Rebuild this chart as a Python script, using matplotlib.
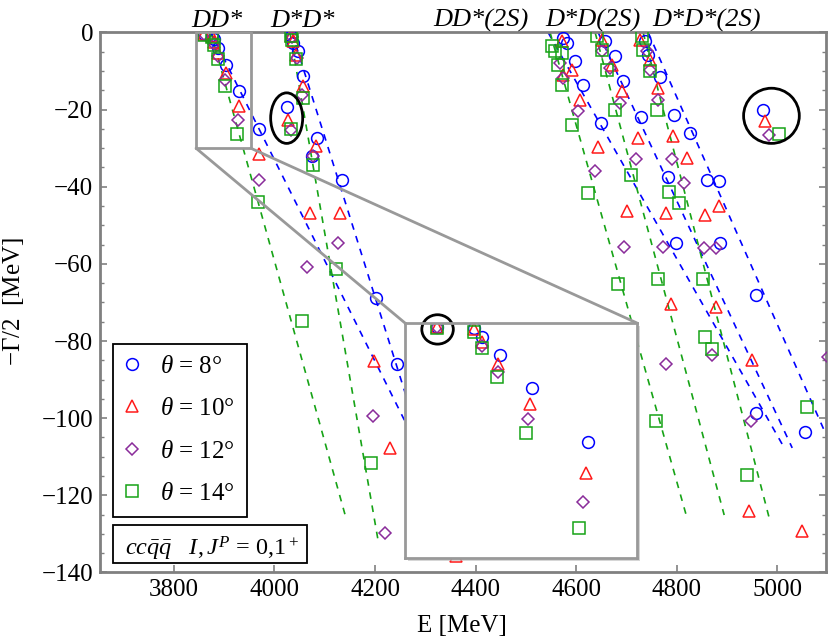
import matplotlib
matplotlib.use('Agg')
import matplotlib.pyplot as plt
import numpy as np
from matplotlib.patches import Ellipse, Rectangle, ConnectionPatch
from matplotlib.ticker import MultipleLocator

plt.rcParams['font.family'] = 'Liberation Serif'
plt.rcParams['mathtext.fontset'] = 'custom'
plt.rcParams['mathtext.rm'] = 'Liberation Serif'
plt.rcParams['mathtext.it'] = 'Liberation Serif:italic'
plt.rcParams['mathtext.bf'] = 'Liberation Serif:bold'

# complex-scaling eigenvalues, E [MeV] and -Gamma/2 [MeV]
e08 = [3859.2, 3876.2, 3880.3, 3888.6, 3903.5, 3930.1, 3969.7,
       4033.8, 4037.0, 4047.4, 4057.3, 4085.6, 4075.6, 4133.7, 4202.0, 4243.0, 4024.3,
       4574.7, 4581.5, 4598.0, 4614.5, 4649.1,
       4657.7, 4677.6, 4694.1, 4728.7, 4783.7,
       4737.3, 4743.9, 4767.1, 4795.0, 4826.8, 4860.0, 4885.0, 4799.0, 4886.1,
       4957.4, 4957.4, 5055.0, 4971.5]
g08 = [-0.5, -0.6, -1.8, -4.1, -8.3, -15.2, -25.1,
       -1.0, -2.7, -4.9, -11.4, -27.4, -32.1, -38.2, -68.8, -86.0, -19.2,
       -1.4, -2.7, -7.5, -13.5, -23.5,
       -2.3, -6.2, -12.7, -22.0, -37.4,
       -2.3, -5.8, -11.6, -21.4, -26.1, -38.2, -38.4, -54.7, -54.5,
       -68.1, -98.7, -103.7, -20.1]

e10 = [3859.2, 3876.2, 3880.0, 3887.8, 3902.7, 3928.9, 3969.8,
       4033.8, 4036.0, 4042.8, 4056.1, 4083.6, 4027.5, 4070.6, 4130.0, 4198.6, 4229.9, 4361.0,
       4571.5, 4591.4, 4574.7, 4607.9, 4644.4, 4701.0,
       4651.1, 4671.0, 4690.9, 4724.0, 4779.7, 4789.6,
       4727.3, 4747.2, 4763.8, 4792.4, 4820.3, 4856.1, 4884.2, 4877.6, 4950.6,
       4944.0, 5048.5, 4974.8]
g10 = [-0.5, -0.8, -2.4, -5.2, -10.4, -19.1, -31.5,
       -0.8, -2.2, -5.75, -13.9, -29.5, -22.6, -46.9, -46.7, -85.1, -107.8, -135.6,
       -2.3, -9.6, -10.9, -17.4, -29.6, -46.3,
       -1.9, -8.3, -15.2, -27.4, -46.7, -70.5,
       -1.9, -7.1, -14.4, -26.8, -32.6, -47.2, -45.0, -71.2, -84.9,
       -124.1, -129.3, -22.9]

e12 = [3859.2, 3880.0, 3887.8, 3901.9, 3927.5, 3969.8, 4064.0, 4127.0, 4196.6, 4220.0,
       4034.0, 4044.2, 4054.1, 4076.8, 4032.2,
       4568.1, 4574.7, 4604.6, 4637.8, 4694.5, 4779.7,
       4651.1, 4667.6, 4687.5, 4718.8, 4772.9, 4869.4,
       4740.7, 4747.2, 4763.8, 4790.4, 4814.9, 4854.1, 4877.6, 4947.5, 5100.5, 4982.7]
g12 = [-0.5, -2.9, -6.2, -12.3, -22.8, -38.2, -60.7, -54.7, -99.4, -129.8,
       -1.2, -6.6, -16.1, -32.1, -25.2,
       -7.9, -11.8, -20.4, -35.8, -55.6, -85.9,
       -4.9, -9.2, -18.3, -32.9, -55.6, -83.5,
       -4.9, -9.6, -17.4, -32.8, -39.1, -56.0, -56.0, -100.7, -84.2, -26.6]

e14 = [3859.2, 3876.4, 3880.0, 3887.4, 3900.8, 3925.7, 3967.8, 4055.3, 4121.8, 4191.8,
       4033.8, 4035.0, 4042.8, 4056.1, 4076.8, 4032.2,
       4551.6, 4558.2, 4571.5, 4564.8, 4571.5, 4591.4, 4624.5, 4682.6, 4759.8,
       4641.2, 4651.1, 4661.1, 4677.6, 4708.8, 4763.0, 4855.5,
       4730.7, 4733.9, 4747.2, 4760.5, 4785.6, 4805.0, 4852.7, 4870.6, 4940.6,
       5059.3, 5002.6]
g14 = [-0.6, -1.1, -3.2, -6.9, -14.0, -26.2, -43.9, -74.7, -61.4, -111.5,
       -1.0, -2.0, -6.8, -17.0, -34.3, -24.9,
       -3.6, -4.9, -5.3, -8.3, -13.5, -24.0, -41.5, -65.1, -100.8,
       -1.0, -4.5, -9.6, -20.0, -36.9, -63.8, -79.0,
       -1.0, -4.5, -10.1, -20.0, -41.3, -44.1, -63.8, -82.0, -114.7,
       -97.2, -26.3]

# rotated continuum lines (E0, G0, E1, G1)
blue_lines = [(3873.6, 0.0, 4309.4, -113.8),
              (4034.8, 0.0, 4289.5, -105.7),
              (4544.3, 0.0, 5011.9, -107.2),
              (4643.8, 0.0, 5029.8, -107.7),
              (4743.3, 0.0, 5128.2, -113.4)]
green_lines = [(3873.6, 0.0, 4142.3, -125.9),
               (4030.8, 0.0, 4206.0, -131.6),
               (4548.2, 0.0, 4818.9, -125.1),
               (4637.8, 0.0, 4894.5, -125.1),
               (4733.3, 0.0, 4984.1, -125.9)]

thresholds = ['DD*', 'D*D*', 'DD*(2S)', 'D*D(2S)', 'D*D*(2S)']
threshold_x = [3885, 4055, 4411, 4633, 4860]

series = [(e08, g08, 'o', '#0000ff', r'$\theta$ = 8°'),
          (e10, g10, '^', '#ff1a1a', r'$\theta$ = 10°'),
          (e12, g12, 'D', '#8a2c9a', r'$\theta$ = 12°'),
          (e14, g14, 's', '#16a316', r'$\theta$ = 14°')]
msize = {'o': 8.5, '^': 8.5, 'D': 6.5, 's': 8.0}

spine_gray = '#808080'

fig = plt.figure(figsize=(8.3, 6.37), dpi=100)
ax = fig.add_axes([0.12048, 0.10126, 0.87470, 0.84772])

for x0, y0, x1, y1 in blue_lines:
    ax.plot([x0, x1], [y0, y1], ls=(0, (4, 4)), color='#0000ff', lw=1.2, zorder=2)
for x0, y0, x1, y1 in green_lines:
    ax.plot([x0, x1], [y0, y1], ls=(0, (4, 4)), color='#16a316', lw=1.2, zorder=2)

handles = []
for ex, gy, mk, col, lab in series:
    h, = ax.plot(ex, gy, ls='none', marker=mk, ms=msize[mk], mfc='none', mec=col,
                 mew=1.1, label=lab, zorder=3)
    handles.append(h)

ax.add_patch(Ellipse((4024.3, -22.2), 63.7, 13.1, fill=False, ec='black', lw=2, zorder=4))
ax.add_patch(Ellipse((4988.5, -21.6), 110.8, 14.3, fill=False, ec='black', lw=2, zorder=4))

# zoom box and connectors
box_x = (3844, 3953)
box_y = (-30, 0)
ax.add_patch(Rectangle((box_x[0], box_y[0]), box_x[1] - box_x[0], box_y[1] - box_y[0],
                       fill=False, ec='#999999', lw=2, zorder=5))

ax.set_xlim(3653, 5097)
ax.set_ylim(-140, 0)
ax.set_xticks(np.arange(3800, 5001, 200))
ax.set_yticks(np.arange(-140, 1, 20))
ax.yaxis.set_minor_locator(MultipleLocator(5))
ax.tick_params(which='both', direction='in', top=False, right=True, color=spine_gray,
               labelsize=18, pad=5)
ax.tick_params(which='major', length=5, width=1.2)
ax.tick_params(which='minor', length=3, width=1.0)
for s in ax.spines.values():
    s.set_color(spine_gray)
    s.set_linewidth(2)

for name, xt in zip(thresholds, threshold_x):
    ax.text(xt, 1.5, name, ha='center', va='baseline', fontsize=19, style='italic',
            clip_on=False)

fig.text(462 / 830, 1 - 626 / 637, 'E [MeV]', ha='center', va='center', fontsize=18)
fig.text(14 / 830, 1 - 302 / 637, r'$-\Gamma/2$  [MeV]', ha='center', va='center',
         rotation=90, fontsize=18)

leg = ax.legend(handles=handles, loc='lower left', bbox_to_anchor=(0.0179, 0.1033),
                borderaxespad=0, fontsize=18, frameon=True, fancybox=False,
                framealpha=1, edgecolor='black', handletextpad=0.84, handlelength=0.6,
                labelspacing=0.8, borderpad=0.46)
leg.get_frame().set_linewidth(1.3)

# quantum-number box
ax.add_patch(Rectangle((0.0179, 0.017), 0.2668, 0.071, transform=ax.transAxes,
                       fc='white', ec='black', lw=1.3, zorder=6))
ax.text(0.0344, 0.0324, r'$cc\bar{q}\bar{q}$   $I, J^P$ = 0,1$^+$', transform=ax.transAxes,
        fontsize=17.5, ha='left', va='baseline', zorder=7)

# inset
ins_rect = [405 / 830, 1 - 558 / 637, 232 / 830, 235 / 637]
shadow = Rectangle((ins_rect[0] + 0.004, ins_rect[1] - 0.005), ins_rect[2], ins_rect[3],
                   transform=fig.transFigure, fc='#bbbbbb', ec='none', alpha=0.6, zorder=1)
fig.patches.append(shadow)

axins = fig.add_axes(ins_rect)
axins.set_zorder(5)
for ex, gy, mk, col, lab in series:
    axins.plot(ex, gy, ls='none', marker=mk, ms=msize[mk], mfc='none', mec=col, mew=1.1)
axins.set_xlim(*box_x)
axins.set_ylim(*box_y)
axins.set_xticks([])
axins.set_yticks([])
for s in axins.spines.values():
    s.set_color('#999999')
    s.set_linewidth(2)
axins.add_patch(Ellipse((3859.3, -0.82), 14.8, 3.75, fill=False, ec='black', lw=2,
                        clip_on=False))

for xa, xb in [(box_x[0], 0), (box_x[1], 1)]:
    con = ConnectionPatch(xyA=(xa, box_y[0]), coordsA=ax.transData,
                          xyB=(xb, 1), coordsB=axins.transAxes,
                          color='#999999', lw=2, zorder=5)
    ax.add_artist(con)

fig.savefig('out.png', dpi=100)
